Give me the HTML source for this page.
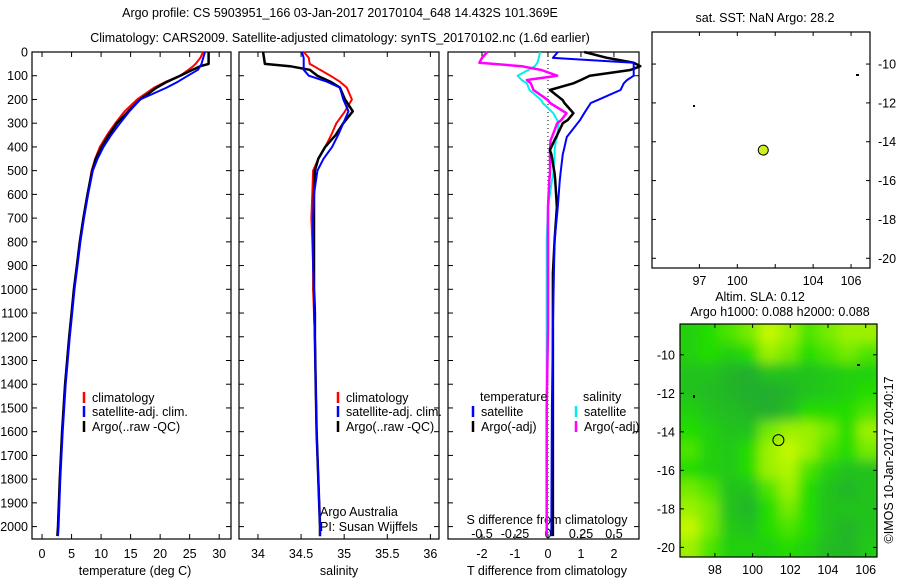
<!DOCTYPE html>
<html><head><meta charset="utf-8"><style>
body{margin:0;background:#fff;}
svg{display:block;font-family:"Liberation Sans",sans-serif;font-size:12.5px;}
</style></head><body>
<svg id="c" width="900" height="580" viewBox="0 0 900 580">
<text x="340" y="17" text-anchor="middle">Argo profile: CS 5903951_166 03-Jan-2017 20170104_648 14.432S 101.369E</text>
<text x="340" y="42" text-anchor="middle">Climatology: CARS2009. Satellite-adjusted climatology: synTS_20170102.nc (1.6d earlier)</text>
<text x="765" y="22" text-anchor="middle">sat. SST: NaN Argo: 28.2</text>
<text x="760" y="301" text-anchor="middle">Altim. SLA: 0.12</text>
<text x="780" y="316" text-anchor="middle">Argo h1000: 0.088 h2000: 0.088</text>
<text transform="translate(893,460) rotate(-90)" text-anchor="middle">©IMOS 10-Jan-2017 20:40:17</text>
<text x="135" y="575" text-anchor="middle">temperature (deg C)</text>
<text x="339" y="575" text-anchor="middle">salinity</text>
<text x="547" y="575" text-anchor="middle">T difference from climatology</text>
<text x="547" y="524" text-anchor="middle">S difference from climatology</text>
<text x="320" y="516">Argo Australia</text>
<text x="320" y="531">PI: Susan Wijffels</text>
</svg>
<script>
const depths=[0,25,50,60,75,100,125,150,200,250,300,350,400,450,500,600,700,800,900,1000,1100,1200,1400,1600,1800,2000,2040];
const tempClim=[27.3,26.8,26.0,25.6,24.8,23.4,21.0,19.0,16.1,14.0,12.4,11.0,9.8,9.0,8.4,7.7,7.0,6.4,5.9,5.4,5.0,4.6,3.9,3.4,3.0,2.7,2.6];
const tempSat=[27.6,27.3,27.0,26.8,26.4,24.7,23.0,21.1,16.6,14.8,13.2,11.7,10.4,9.4,8.6,7.8,7.1,6.5,6.0,5.5,5.1,4.7,4.0,3.5,3.1,2.8,2.7];
const tempArgo=[28.2,28.2,28.2,26.8,25.5,23.4,21.2,19.4,16.6,14.6,12.7,11.3,10.1,9.1,8.5,7.7,7.0,6.4,5.9,5.4,5.0,4.6,3.9,3.4,3.0,2.7,2.6];
const salClim=[34.53,34.59,34.60,34.65,34.72,34.84,34.95,35.03,35.09,35.01,34.91,34.85,34.78,34.70,34.64,34.63,34.62,34.63,34.64,34.64,34.65,34.66,34.67,34.68,34.70,34.72,34.72];
const salSat=[34.51,34.53,34.53,34.53,34.53,34.59,34.80,34.95,34.99,35.05,34.99,34.93,34.86,34.76,34.69,34.65,34.64,34.64,34.64,34.65,34.65,34.66,34.67,34.68,34.70,34.72,34.72];
const salArgo=[34.06,34.07,34.08,34.37,34.60,34.69,34.84,34.95,35.01,35.10,34.99,34.90,34.78,34.70,34.66,34.65,34.65,34.65,34.65,34.65,34.66,34.66,34.67,34.68,34.70,34.72,34.72];
const diffDepths=[0,25,45,60,76,100,118,132,160,203,215,258,287,300,358,371,414,430,512,540,653,793,934,1160,1500,2040];
const dTsat=[0.3,0.15,2.6,2.6,2.6,2.6,2.4,2.3,2.2,1.5,1.3,1.1,0.97,0.9,0.57,0.55,0.48,0.45,0.38,0.36,0.3,0.2,0.18,0.15,0.12,0.1];
const dTargo=[1.1,1.8,2.6,2.8,2.5,1.27,1.0,0.77,0.06,0.45,0.5,0.77,0.6,0.45,0.25,0.2,0.06,0.1,0.2,0.22,0.27,0.2,0.15,0.15,0.15,0.15];
const dSargo=[-0.46,-0.5,-0.52,-0.2,-0.05,0.07,-0.16,-0.13,-0.11,0.0,0.015,0.14,0.1,0.07,0.03,0.02,0.015,0.015,0.015,0.01,0.0,0.0,0.0,0.0,-0.01,-0.01];
const dSsat=[-0.06,-0.07,-0.08,-0.1,-0.15,-0.23,-0.2,-0.16,-0.14,-0.05,-0.04,0.04,0.07,0.08,0.07,0.06,0.05,0.05,0.04,0.03,0.0,-0.01,-0.01,-0.01,-0.01,-0.01];
const depthTicks=[0,100,200,300,400,500,600,700,800,900,1000,1100,1200,1300,1400,1500,1600,1700,1800,1900,2000];
const tempTicks=[0,5,10,15,20,25,30];
const salTicks=[34,34.5,35,35.5,36];
const dTTicks=[-2,-1,0,1,2];
const dSTicks=[-0.5,-0.25,0,0.25,0.5];
const latTicks=[-10,-12,-14,-16,-18,-20];
const lonTicks=[98,100,102,104,106];
const argoPos=[101.37,-14.43];
const slaGrid=[
[0.4,0.5,0.6,0.7,0.9,0.8,0.6,0.7,0.8,0.8],
[0.4,0.5,0.4,0.5,0.8,0.7,0.5,0.6,0.7,0.6],
[0.3,0.3,0.2,0.15,0.3,0.3,0.3,0.35,0.4,0.4],
[0.3,0.25,0.2,0.15,0.15,0.2,0.3,0.35,0.4,0.5],
[0.4,0.3,0.25,0.2,0.15,0.25,0.5,0.5,0.5,0.6],
[0.5,0.4,0.3,0.3,0.7,0.8,0.8,0.7,0.5,0.8],
[0.6,0.4,0.35,0.5,0.8,0.9,0.8,0.6,0.5,0.7],
[0.5,0.4,0.35,0.5,0.8,0.85,0.6,0.4,0.3,0.3],
[0.7,0.6,0.3,0.3,0.6,0.8,0.5,0.3,0.2,0.3],
[0.8,0.7,0.3,0.2,0.5,0.7,0.5,0.3,0.3,0.3],
[0.9,0.7,0.35,0.3,0.5,0.6,0.5,0.3,0.2,0.3],
[0.8,0.6,0.4,0.4,0.4,0.5,0.4,0.25,0.2,0.35]];

const svg=document.getElementById('c');
const NS='http://www.w3.org/2000/svg';
function mk(tag,attrs,parent){const e=document.createElementNS(NS,tag);for(const k in attrs)e.setAttribute(k,attrs[k]);(parent||svg).appendChild(e);return e;}
const top0=52,bot=539;
const yD=d=>top0+d*0.2373;

function panel(name,x0,x1,xmin,xmax,ticks,labelY,showDepthLabels){
  const sx=v=>x0+(v-xmin)/(xmax-xmin)*(x1-x0);
  const g=mk('g',{});
  
  
  const r=mk('rect',{x:x0,y:top0,width:x1-x0,height:bot-top0,fill:'none',stroke:'#000','stroke-width':1.2},g);
  
  
  depthTicks.forEach(d=>{
    const y=yD(d);
    mk('line',{x1:x0,x2:x0+5,y1:y,y2:y,stroke:'#000'},g);
    mk('line',{x1:x1-5,x2:x1,y1:y,y2:y,stroke:'#000'},g);
    if(showDepthLabels){const t=mk('text',{x:28,y:y+4.5,'text-anchor':'end'},g);t.textContent=d;
      
      }
  });
  ticks.forEach(v=>{
    const x=sx(v);
    mk('line',{x1:x,x2:x,y1:bot,y2:bot-5,stroke:'#000'},g);
    mk('line',{x1:x,x2:x,y1:top0,y2:top0+5,stroke:'#000'},g);
    const t=mk('text',{x:x,y:labelY,'text-anchor':'middle'},g);t.textContent=v;
    
    
  });
  return {g,sx};
}
function line(g,xs,ds,sx,color,w,name){
  const pts=xs.map((v,i)=>sx(v).toFixed(1)+','+yD(ds[i]).toFixed(1)).join(' ');
  const p=mk('polyline',{points:pts,fill:'none',stroke:color,'stroke-width':w,'stroke-linejoin':'round'},g);
  
  
}
function legend(g,x,y,color,label,name){
  const l=mk('line',{x1:x,x2:x,y1:y-10,y2:y+1,stroke:color,'stroke-width':2.5},g);
  
  
  const t=mk('text',{x:x+8,y:y},g);t.textContent=label;
  
  
}
// Panel 1 temperature
const P1=panel('temperature-panel',32,231,-1.7,32,tempTicks,558,true);
line(P1.g,tempClim,depths,P1.sx,'#f00',2,'temp-climatology-line');
line(P1.g,tempArgo,depths,P1.sx,'#000',2.5,'temp-argo-line');
line(P1.g,tempSat,depths,P1.sx,'#00f',2,'temp-satellite-line');
legend(P1.g,84,402,'#f00','climatology','legend-climatology');
legend(P1.g,84,416,'#00f','satellite-adj. clim.','legend-satellite');
legend(P1.g,84,431,'#000','Argo(..raw -QC)','legend-argo');
// Panel 2 salinity
const P2=panel('salinity-panel',239,439,33.78,36.1,salTicks,558,false);
line(P2.g,salClim,depths,P2.sx,'#f00',2,'sal-climatology-line');
line(P2.g,salArgo,depths,P2.sx,'#000',2.5,'sal-argo-line');
line(P2.g,salSat,depths,P2.sx,'#00f',2,'sal-satellite-line');
legend(P2.g,338,402,'#f00','climatology','legend2-climatology');
legend(P2.g,338,416,'#00f','satellite-adj. clim.','legend2-satellite');
legend(P2.g,338,431,'#000','Argo(..raw -QC)','legend2-argo');
// Panel 3 differences
const P3=panel('difference-panel',448,639,-3.03,2.76,dTTicks,558,false);
const sxS=v=>548+v*132;
dSTicks.forEach(v=>{const t=mk('text',{x:sxS(v),y:538,'text-anchor':'middle'},P3.g);t.textContent=v;
  
  });
const z=mk('line',{x1:P3.sx(0),x2:P3.sx(0),y1:top0,y2:bot,stroke:'#000','stroke-dasharray':'1,3'},P3.g);


line(P3.g,dSsat,diffDepths,sxS,'#0ee',2,'s-diff-satellite-line');
line(P3.g,dSargo,diffDepths,sxS,'#f0f',2.5,'s-diff-argo-line');
line(P3.g,dTargo,diffDepths,P3.sx,'#000',2.5,'t-diff-argo-line');
line(P3.g,dTsat,diffDepths,P3.sx,'#00f',2,'t-diff-satellite-line');
let tt=mk('text',{x:480,y:401},P3.g);tt.textContent='temperature';


tt=mk('text',{x:583,y:401},P3.g);tt.textContent='salinity';


legend(P3.g,473,416,'#00f','satellite','legend3-t-satellite');
legend(P3.g,473,431,'#000','Argo(-adj)','legend3-t-argo');
legend(P3.g,576,416,'#0ee','satellite','legend3-s-satellite');
legend(P3.g,576,431,'#f0f','Argo(-adj)','legend3-s-argo');

// Maps
function map(name,x0,x1,y0,y1,lon0,lon1,lat0,lat1,latSide,lonLabels,grid){
  const sx=v=>x0+(v-lon0)/(lon1-lon0)*(x1-x0);
  const sy=v=>y0+(lat0-v)/(lat0-lat1)*(y1-y0);
  const g=mk('g',{});
  
  
  if(grid){
    const cp=mk('clipPath',{id:name+'-clip'},g);mk('rect',{x:x0,y:y0,width:x1-x0,height:y1-y0},cp);
    const f=mk('filter',{id:name+'-blur',x:'-10%',y:'-10%',width:'120%',height:'120%'},g);mk('feGaussianBlur',{stdDeviation:6},f);
    const hg=mk('g',{'clip-path':'url(#'+name+'-clip)'},g);
    mk('rect',{x:x0,y:y0,width:x1-x0,height:y1-y0,fill:'#44dd00'},hg);
    const bg=mk('g',{filter:'url(#'+name+'-blur)'},hg);
    const rows=grid.length,cols=grid[0].length;
    const cw=(x1-x0)/cols,ch=(y1-y0)/rows;
    function col(v){const a=[0x22,0x9a,0x40],b=[0x22,0xdd,0x00],c=[0xee,0xff,0x00];
      let p,q,t;if(v<0.5){p=a;q=b;t=v/0.5;}else{p=b;q=c;t=(v-0.5)/0.5;}
      return 'rgb('+p.map((u,i)=>Math.round(u+(q[i]-u)*t)).join(',')+')';}
    grid.forEach((row,i)=>row.forEach((v,j)=>{
      const cell=mk('rect',{x:x0+j*cw-8*(j==0),y:y0+i*ch-8*(i==0),width:cw+1+8*(j==0||j==cols-1),height:ch+1+8*(i==0||i==rows-1),fill:col(v)},bg);
      
      
    }));
  }
  const fr=mk('rect',{x:x0,y:y0,width:x1-x0,height:y1-y0,fill:'none',stroke:'#000','stroke-width':1.2},g);
  
  
  latTicks.forEach(v=>{const y=sy(v);
    mk('line',{x1:x0,x2:x0+4,y1:y,y2:y,stroke:'#000'},g);mk('line',{x1:x1-4,x2:x1,y1:y,y2:y,stroke:'#000'},g);
    const t=mk('text',latSide=='right'?{x:x1+8,y:y+4.5}:{x:x0-5,y:y+4.5,'text-anchor':'end'},g);t.textContent=v;
    
    });
  lonTicks.forEach(v=>{const x=sx(v);
    mk('line',{x1:x,x2:x,y1:y1,y2:y1-4,stroke:'#000'},g);mk('line',{x1:x,x2:x,y1:y0,y2:y0+4,stroke:'#000'},g);});
  lonLabels.forEach(v=>{const t=mk('text',{x:sx(v[0]),y:y1+17,'text-anchor':'middle'},g);t.textContent=v[1];
    
    });
  return {g,sx,sy};
}
const M1=map('sst-map',652,870,32,268,95.5,107,-8.35,-20.5,'right',[[98,'97'],[100,'100'],[104,'104'],[106,'106']],null);
let c1=mk('circle',{cx:M1.sx(argoPos[0]),cy:M1.sy(argoPos[1]),r:5,fill:'#ccee22',stroke:'#000'},M1.g);


mk('rect',{x:693,y:105,width:2,height:2,fill:'#000'},M1.g);mk('rect',{x:856,y:74,width:3,height:2,fill:'#000'},M1.g);
const M2=map('sla-map',680,877,324,557,96.15,106.6,-8.4,-20.5,'left',[[98,'98'],[100,'100'],[102,'102'],[104,'104'],[106,'106']],slaGrid);
let c2=mk('circle',{cx:M2.sx(argoPos[0]),cy:M2.sy(argoPos[1]),r:5.5,fill:'none',stroke:'#000'},M2.g);


mk('rect',{x:693,y:395,width:2,height:3,fill:'#000'},M2.g);mk('rect',{x:857,y:364,width:3,height:2,fill:'#000'},M2.g);
</script>
</body></html>
